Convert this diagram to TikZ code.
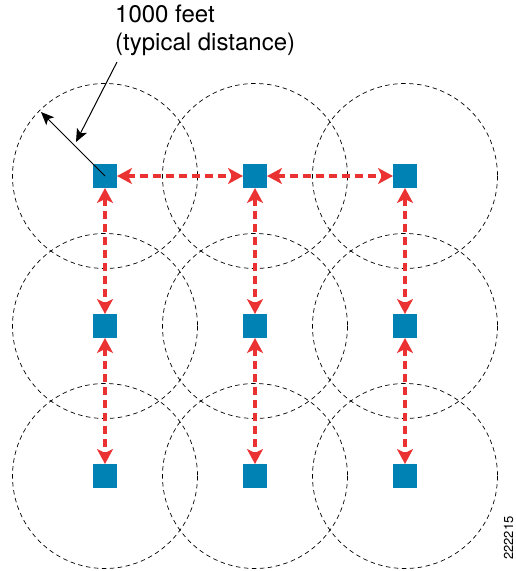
\documentclass[tikz,border=0pt]{standalone}
\usepackage{fontspec}
\setmainfont{TeX Gyre Heros}
\usetikzlibrary{arrows.meta}
\definecolor{boxblue}{RGB}{0,130,180}
\definecolor{linkred}{RGB}{235,50,50}
\tikzset{
  ap/.style={draw=none,fill=boxblue,minimum size=24pt,inner sep=0pt,outer sep=0pt},
  cover/.style={draw=black,line width=0.7pt,dash pattern=on 4.5pt off 3.5pt},
  link/.style={draw=linkred,line width=4pt,dash pattern=on 8pt off 5pt,
    {Stealth[length=15pt,width=16pt,inset=4pt]}-{Stealth[length=15pt,width=16pt,inset=4pt]}},
  pointer/.style={draw=black,line width=1pt,-{Stealth[length=13pt,width=11pt,inset=3pt]}}
}
\begin{document}
\begin{tikzpicture}[x=1pt,y=-1pt]
\useasboundingbox (0,0) rectangle (516,571);
% coverage circles
\foreach \i/\x in {1/105,2/255,3/405}{
  \foreach \j/\y in {1/176,2/326,3/476}{
    \draw[cover] (\x,\y) circle[radius=92.5];
  }
}
% access points
\foreach \i/\x in {1/105,2/255,3/405}{
  \foreach \j/\y in {1/176,2/326,3/476}{
    \node[ap] (s\j\i) at (\x,\y) {};
  }
}
% mesh links
\draw[link] (s11) -- (s12);
\draw[link] (s12) -- (s13);
\foreach \i in {1,2,3}{
  \draw[link] (s1\i) -- (s2\i);
  \draw[link] (s2\i) -- (s3\i);
}
% radius pointer
\coordinate (rim) at (41,112);
\draw[pointer] (s11.center) -- (rim);
% label
\node[anchor=north west,inner sep=0pt,align=left,font=\fontsize{24}{28}\selectfont]
  (lbl) at (115,5) {1000 feet\\(typical distance)};
\coordinate (lblfoot) at (117,62);
\coordinate (lbltip) at (76,142);
\draw[pointer] (lblfoot) -- (lbltip);
% figure number
\node[rotate=90,inner sep=0pt,font=\fontsize{13}{14}\selectfont] (fig) at (508.5,538) {222215};
\end{tikzpicture}
\end{document}
